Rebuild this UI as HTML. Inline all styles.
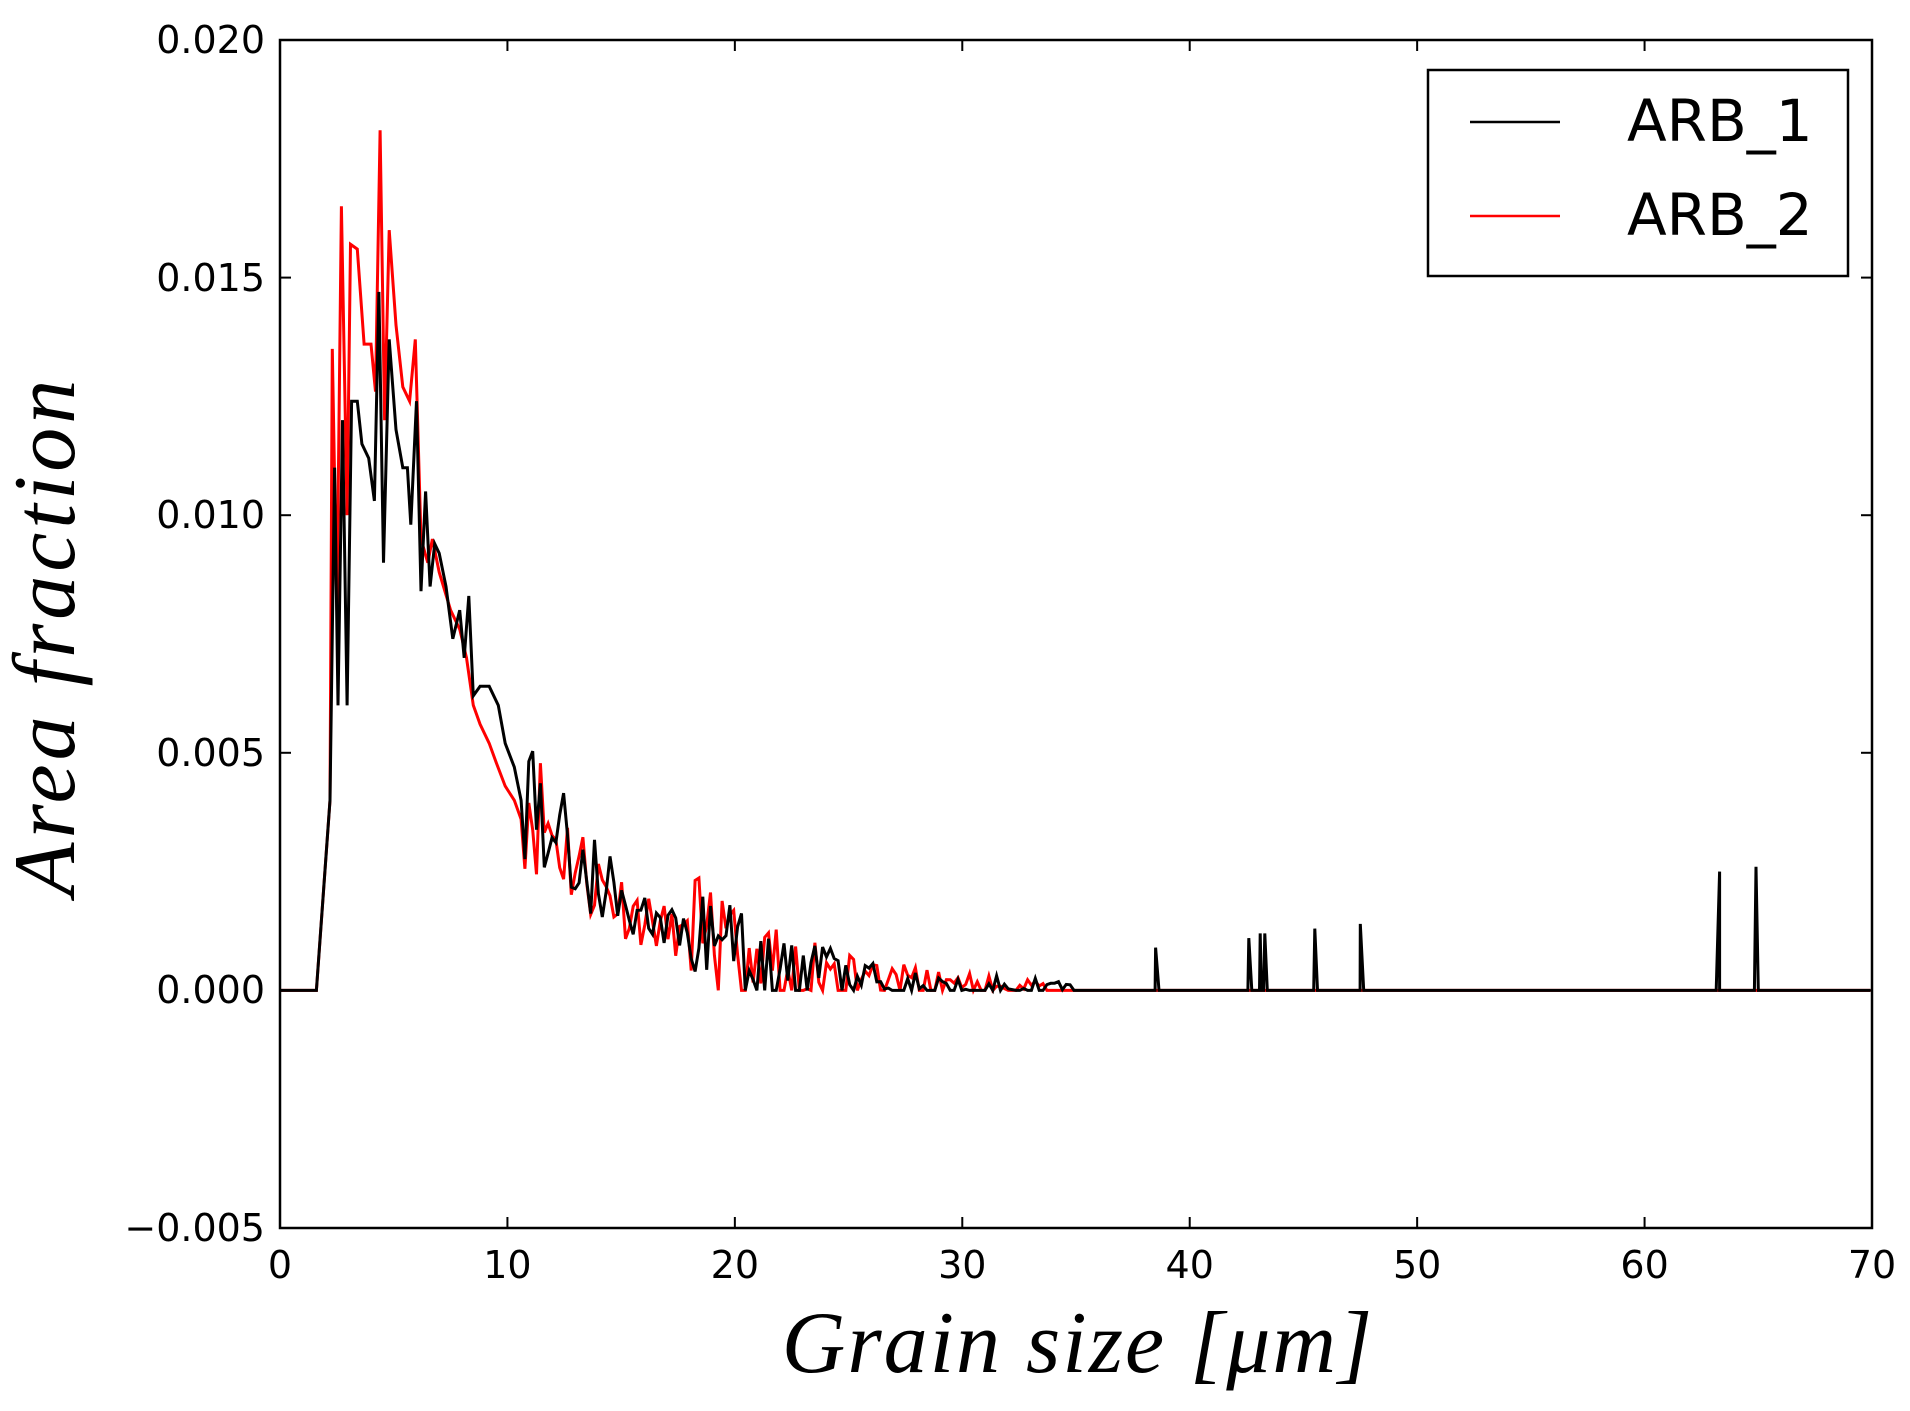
<!DOCTYPE html>
<html><head><meta charset="utf-8"><style>
html,body{margin:0;padding:0;background:#fff;width:1910px;height:1411px;overflow:hidden}
text{font-family:"DejaVu Sans","Liberation Sans",sans-serif}
.ax{font-family:"Liberation Serif","DejaVu Serif",serif;font-style:italic}
</style></head><body>
<svg id="s" width="1910" height="1411" xmlns="http://www.w3.org/2000/svg">
<g id="tk" stroke="#000" stroke-width="2"></g>
<path id="red" fill="none" stroke="#ff0000" stroke-width="3"/>
<path id="blk" fill="none" stroke="#000" stroke-width="3"/>
<rect x="280" y="40" width="1592" height="1188" fill="none" stroke="#000" stroke-width="2.5"/>
<g font-size="38" fill="#000" text-anchor="end">
<text x="265" y="53">0.020</text><text x="265" y="291">0.015</text><text x="265" y="528">0.010</text>
<text x="265" y="766">0.005</text><text x="265" y="1003">0.000</text><text x="265" y="1241">−0.005</text>
</g>
<g font-size="38" fill="#000" text-anchor="middle" id="xl"></g>
<text class="ax" x="1078" y="1372" font-size="88" letter-spacing="2" text-anchor="middle">Grain size [μm]</text>
<text class="ax" transform="translate(74,636) rotate(-90)" font-size="88" letter-spacing="4" text-anchor="middle">Area fraction</text>
<rect x="1428" y="70" width="420" height="206" fill="#fff" stroke="#000" stroke-width="2.5"/>
<line x1="1470" y1="122" x2="1560" y2="122" stroke="#000" stroke-width="2.4"/>
<line x1="1470" y1="216" x2="1560" y2="216" stroke="#f00" stroke-width="2.4"/>
<text x="1627" y="141" font-size="58">ARB_1</text>
<text x="1627" y="235" font-size="58">ARB_2</text>
</svg>
<script>
var L=280,R=1872,T=40,B=1228;
function X(v){return L+(v)*(R-L)/70}
function Y(v){return T+(0.02-v)*(B-T)/0.025}
var tk=document.getElementById('tk'),xl=document.getElementById('xl'),h='',t='';
for(var i=0;i<=7;i++){var x=X(i*10);h+='<line x1="'+x+'" y1="'+B+'" x2="'+x+'" y2="'+(B-11)+'"/><line x1="'+x+'" y1="'+T+'" x2="'+x+'" y2="'+(T+11)+'"/>';t+='<text x="'+x+'" y="1278">'+(i*10)+'</text>';}
for(var j=0;j<=5;j++){var y=T+j*(B-T)/5;h+='<line x1="'+L+'" y1="'+y+'" x2="'+(L+11)+'" y2="'+y+'"/><line x1="'+R+'" y1="'+y+'" x2="'+(R-11)+'" y2="'+y+'"/>';}
tk.innerHTML=h;xl.innerHTML=t;
var seed=7;function rnd(){seed=(seed*16807)%2147483647;return seed/2147483647;}
function build(early,amp,spikes,cut,noise){
 var pts=[[0,0],[1.6,0]];
 early.forEach(function(p){pts.push(p)});
 var last=early[early.length-1][0];
 for(var x=last+0.17;x<70;x+=0.17){
  var base=amp*Math.exp(-(x-6)/4.2)+0.0004*Math.exp(-(x-20)/9);
  var v=base*(1+noise*(rnd()*2-1));
  if(x>18) v=base*(rnd()*2.4);
  if(x>cut) v=0;
  if(x>20 && rnd()<0.35) v=0;
  if(v<0)v=0;
  pts.push([x,v]);
 }
 spikes.forEach(function(s){pts.push([s[0]-0.15,0],[s[0],s[1]],[s[0]+0.15,0])});
 pts.sort(function(a,b){return a[0]-b[0]});
 return 'M'+pts.map(function(p){return X(p[0]).toFixed(1)+','+Y(p[1]).toFixed(1)}).join('L');
}
var blkE=[[2.2,0.004],[2.4,0.011],[2.55,0.006],[2.75,0.012],[2.95,0.006],[3.15,0.0124],[3.4,0.0124],[3.6,0.0115],[3.9,0.0112],[4.15,0.0103],[4.35,0.0147],[4.55,0.009],[4.8,0.0137],[5.1,0.0118],[5.4,0.011],[5.6,0.011],[5.75,0.0098],[6.0,0.0124],[6.2,0.0084],[6.4,0.0105],[6.6,0.0085],[6.8,0.0094],[7.0,0.0092],[7.3,0.0085],[7.6,0.0074],[7.9,0.0080],[8.1,0.0070],[8.3,0.0083],[8.5,0.0062],[8.8,0.0064],[9.2,0.0064],[9.6,0.0060],[9.9,0.0052],[10.3,0.0047],[10.6,0.0040]];
var redE=[[2.2,0.004],[2.3,0.0135],[2.5,0.008],[2.7,0.0165],[2.95,0.010],[3.1,0.0157],[3.4,0.0156],[3.7,0.0136],[4.0,0.0136],[4.2,0.0126],[4.4,0.0181],[4.6,0.0120],[4.8,0.0160],[5.1,0.0140],[5.4,0.0127],[5.7,0.0124],[5.95,0.0137],[6.2,0.0095],[6.5,0.0090],[6.7,0.0095],[7.0,0.0088],[7.5,0.0080],[7.9,0.0076],[8.2,0.0070],[8.5,0.0060],[8.8,0.0056],[9.2,0.0052],[9.5,0.0048],[9.9,0.0043],[10.3,0.0040],[10.6,0.0036]];
seed=11;document.getElementById('red').setAttribute('d',build(redE,0.0098,[],34,0.4));
seed=5;document.getElementById('blk').setAttribute('d',build(blkE,0.0104,[[38.5,0.0009],[42.6,0.0011],[43.1,0.0012],[43.3,0.0012],[45.5,0.0013],[47.5,0.0014],[63.3,0.0025],[64.9,0.0026]],35.2,0.38));
</script>
</body></html>
